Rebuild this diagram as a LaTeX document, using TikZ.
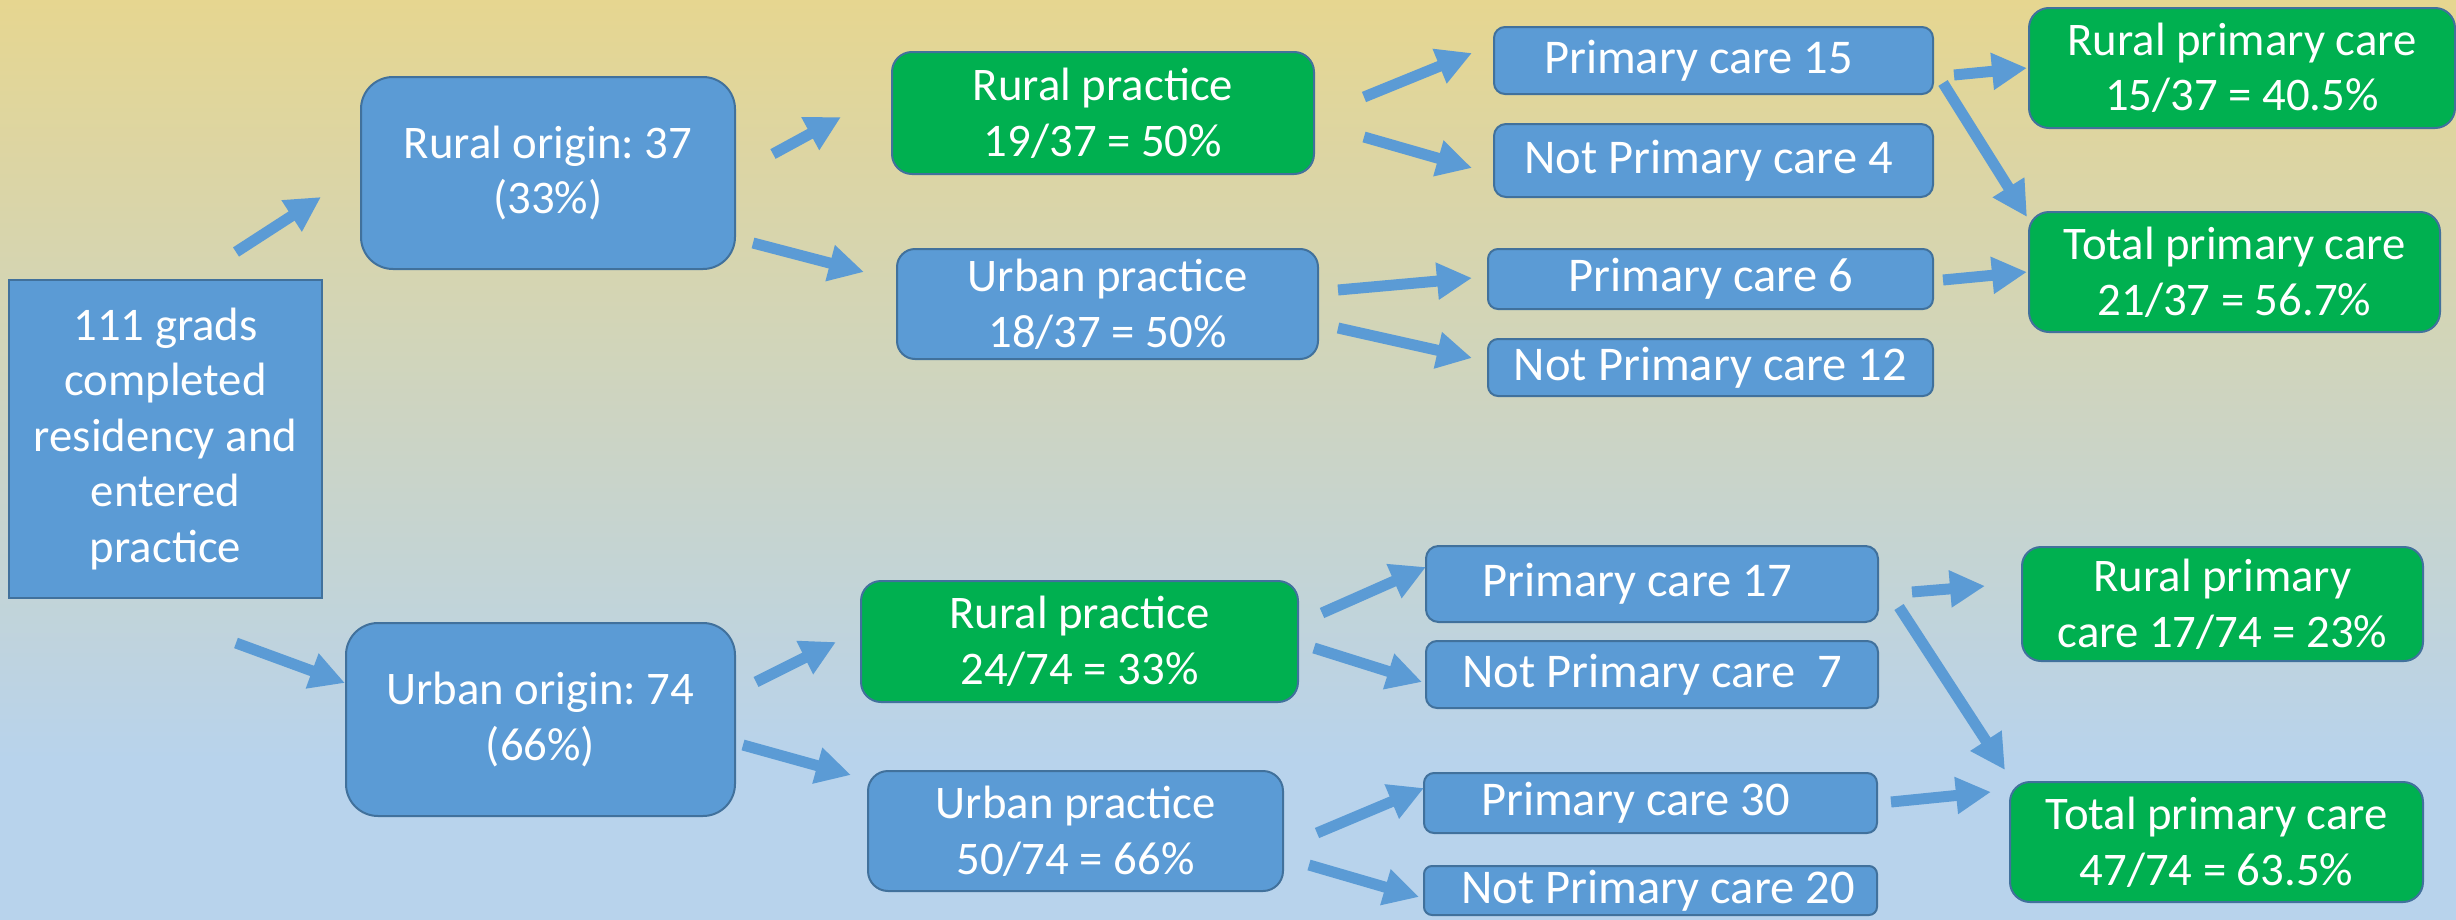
\documentclass[tikz,border=0pt]{standalone}
\usepackage{fontspec}
\setmainfont{Carlito}
\usetikzlibrary{arrows.meta}
\frenchspacing

\definecolor{boxblue}{HTML}{5B9BD5}
\definecolor{boxgreen}{HTML}{00B050}
\definecolor{edgeblue}{HTML}{41719C}
\definecolor{bgtop}{RGB}{230,214,144}
\definecolor{bgbot}{RGB}{184,211,236}

\begin{document}
\begin{tikzpicture}[x=0.1mm, y=-0.1mm,
		box/.style={draw=edgeblue, line width=0.2mm, fill=boxblue, text=white, align=center,
			inner sep=0pt, font=\fontsize{13.3}{15.8}\selectfont},
		good/.style={box, fill=boxgreen},
		one/.style={box, font=\fontsize{13.8}{16}\selectfont},
		flow/.style={draw=boxblue, line width=1.1mm, -{Triangle[length=3.5mm, width=3.5mm]}}]
	\useasboundingbox (0,0) rectangle (2456,920);
	\fill[bgbot] (0,0) rectangle (2456,920);
	\shade[top color=bgtop, bottom color=bgbot] (0,0) rectangle (2456,760);
	
	% start and origin
	\node[box, minimum width=31.3mm, minimum height=31.8mm] (grads) at (165.5,439) {111 grads\\completed\\residency and\\entered\\practice};
	\node[box, rounded corners=3.2mm, minimum width=37.4mm, minimum height=19.2mm] (rural) at (548,173) {Rural origin: 37\\(33\%)};
	\node[box, rounded corners=3.2mm, minimum width=38.9mm, minimum height=19.3mm] (urban) at (540.5,719.5) {Urban origin: 74\\(66\%)};
	
	% practice
	\node[good, rounded corners=2mm, minimum width=42.2mm, minimum height=12.2mm] (rr) at (1103,113) {Rural practice\\19/37 = 50\%};
	\node[box, rounded corners=1.8mm, minimum width=42.1mm, minimum height=11mm] (ru) at (1107.5,304) {Urban practice\\18/37 = 50\%};
	\node[good, rounded corners=2mm, minimum width=43.7mm, minimum height=12.1mm] (ur) at (1079.5,641.5) {Rural practice\\24/74 = 33\%};
	\node[box, rounded corners=2mm, minimum width=41.5mm, minimum height=12mm] (uu) at (1075.5,831) {Urban practice\\50/74 = 66\%};
	
	% primary care or not
	\node[one, rounded corners=1.1mm, minimum width=43.9mm, minimum height=6.7mm] (rrpc) at (1713.5,60.5) {Primary care 15\hspace*{3mm}};
	\node[one, rounded corners=1.2mm, minimum width=43.9mm, minimum height=7.3mm] (rrnot) at (1713.5,160.5) {Not Primary care 4\hspace*{1mm}};
	\node[one, rounded corners=1mm, minimum width=44.5mm, minimum height=6mm] (rupc) at (1710.5,279) {Primary care 6};
	\node[one, rounded corners=1mm, minimum width=44.5mm, minimum height=5.7mm] (runot) at (1710.5,367.5) {Not Primary care 12};
	\node[one, rounded corners=1.25mm, minimum width=45.2mm, minimum height=7.6mm] (urpc) at (1652,584) {Primary care 17\hspace*{3mm}};
	\node[one, rounded corners=1.1mm, minimum width=45.2mm, minimum height=6.7mm] (urnot) at (1652,674.5) {Not Primary care~~7};
	\node[one, rounded corners=1mm, minimum width=45.3mm, minimum height=6mm] (uupc) at (1650.5,803) {Primary care 30\hspace*{3mm}};
	\node[one, rounded corners=0.8mm, minimum width=45.3mm, minimum height=4.9mm] (uunot) at (1650.5,890.5) {\hspace*{1.5mm}Not Primary care 20};
	
	% totals
	\node[good, rounded corners=2mm, minimum width=42.6mm, minimum height=12mm] (rtotr) at (2242,68) {Rural primary care\\15/37 = 40.5\%};
	\node[good, rounded corners=2mm, minimum width=41.1mm, minimum height=12mm] (rtot) at (2234.5,272) {Total primary care\\21/37 = 56.7\%};
	\node[good, rounded corners=1.9mm, minimum width=40.1mm, minimum height=11.4mm] (utotr) at (2222.5,604) {Rural primary\\care 17/74 = 23\%};
	\node[good, rounded corners=2mm, minimum width=41.3mm, minimum height=12mm] (utot) at (2216.5,842) {Total primary care\\47/74 = 63.5\%};
	
	% arrow ends
	\coordinate (s1) at (236,252);   \coordinate (t1) at (321,197);
	\coordinate (s2) at (236,643);   \coordinate (t2) at (345,683);
	\coordinate (s3) at (773,154);   \coordinate (t3) at (841,117);
	\coordinate (s4) at (753,243);   \coordinate (t4) at (864,272);
	\coordinate (s5) at (756,682);   \coordinate (t5) at (836,642);
	\coordinate (s6) at (743,745);   \coordinate (t6) at (851,775);
	\coordinate (s7) at (1364,97);   \coordinate (t7) at (1472,53);
	\coordinate (s8) at (1364,137);  \coordinate (t8) at (1472,168);
	\coordinate (s9) at (1338,290);  \coordinate (t9) at (1472,278);
	\coordinate (s10) at (1338,328); \coordinate (t10) at (1472,358);
	\coordinate (s11) at (1322,613); \coordinate (t11) at (1426,567);
	\coordinate (s12) at (1314,648); \coordinate (t12) at (1422,682);
	\coordinate (s13) at (1317,833); \coordinate (t13) at (1424,788);
	\coordinate (s14) at (1309,865); \coordinate (t14) at (1419,897);
	\coordinate (s15) at (1954,75);  \coordinate (t15) at (2027,68);
	\coordinate (s16) at (1943,83);  \coordinate (t16) at (2027,217);
	\coordinate (s17) at (1943,280); \coordinate (t17) at (2027,272);
	\coordinate (s18) at (1912,592); \coordinate (t18) at (1985,586);
	\coordinate (s19) at (1899,607); \coordinate (t19) at (2005,770);
	\coordinate (s20) at (1891,802); \coordinate (t20) at (1991,792);
	\foreach \i in {1,...,20}
		\draw[flow] (s\i) -- (t\i);
	
\end{tikzpicture}
\end{document}
